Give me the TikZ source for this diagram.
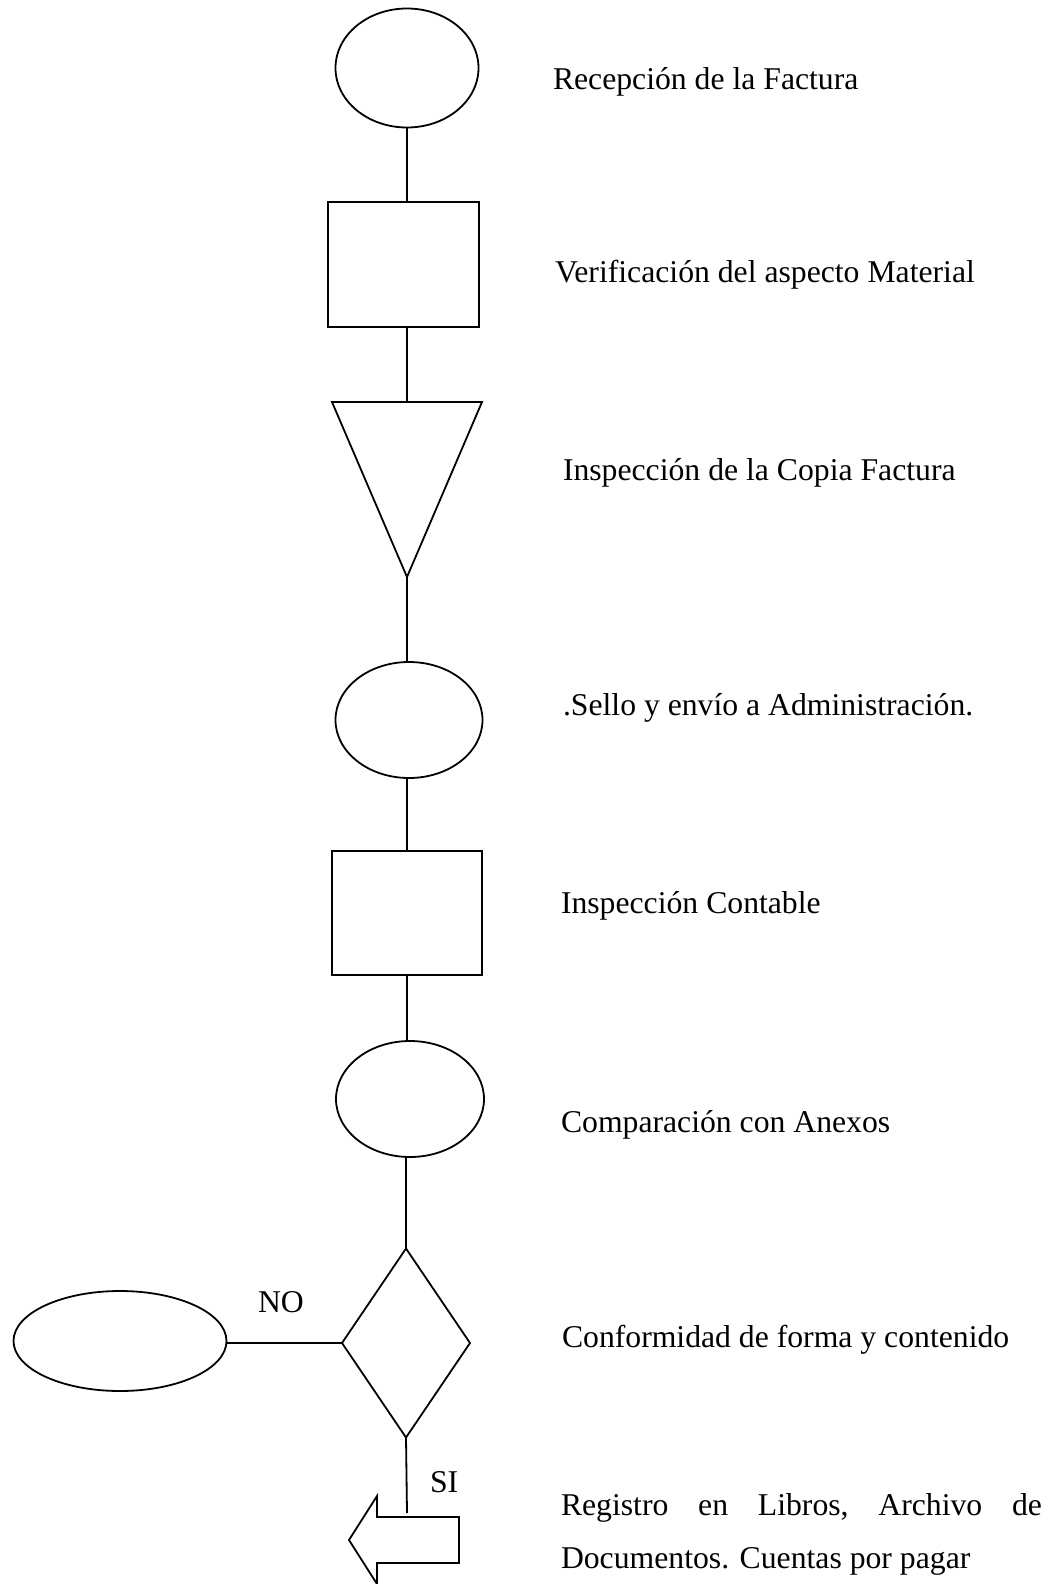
\documentclass[tikz,border=0pt]{standalone}
\usepackage{fontspec}
\setmainfont{Liberation Serif}
\usetikzlibrary{shapes.geometric}
\begin{document}
\begin{tikzpicture}[x=1pt,y=-1pt, line width=1.8pt, line join=miter,
  shp/.style={draw, inner sep=0pt, outer sep=0pt},
  oval/.style={shp, ellipse},
  box/.style={shp, rectangle},
  dec/.style={shp, diamond},
  lbl/.style={anchor=base west, inner sep=0pt, outer sep=0pt, font=\fontsize{31.7}{38}\selectfont},
]
\useasboundingbox (0,0) rectangle (1055,1584);

% shapes
\node[oval, minimum width=143pt, minimum height=119pt] (e1) at (407,68) {};
\node[box, minimum width=151pt, minimum height=125pt] (r1) at (403.5,264.5) {};
\coordinate (t1) at (332,402);
\coordinate (t2) at (482,402);
\coordinate (tapex) at (407,577);
\coordinate (ttop) at (407,402);
\draw (t1) -- (t2) -- (tapex) -- cycle;
\node[oval, minimum width=147pt, minimum height=116pt] (e2) at (409,720) {};
\node[box, minimum width=150pt, minimum height=124pt] (r2) at (407,913) {};
\node[oval, minimum width=148pt, minimum height=116pt] (e3) at (410,1099) {};
\node[dec, minimum width=128pt, minimum height=189pt] (d1) at (406,1343) {};
\node[oval, minimum width=213pt, minimum height=100pt] (e4) at (120,1341) {};

% arrow
\coordinate (aend) at (407,1513);
\draw (459,1517) -- (377,1517) -- (377,1496) -- (349,1540) -- (377,1584) -- (377,1563) -- (459,1563) -- cycle;

% connectors
\draw (e1.south) -- (e1.south |- r1.north);
\draw (r1.south -| ttop) -- (ttop);
\draw (tapex) -- (tapex |- e2.north);
\draw (e2.south -| tapex) -- (tapex |- r2.north);
\draw (r2.south -| tapex) -- (tapex |- e3.north);
\draw (e3.south -| d1.north) -- (d1.north);
\draw (d1.west) -- (d1.west -| e4.east);
\draw (d1.south) -- (aend);

% branch labels
\node[lbl] (no) at (258,1312) {NO};
\node[lbl] (si) at (430,1492) {SI};

% step labels
\node[lbl] (l1) at (553,90) {Recepción de la Factura};
\node[lbl] (l2) at (555,282) {Verificación del aspecto Material};
\node[lbl] (l3) at (563,480) {Inspección de la Copia Factura};
\node[lbl] (l4) at (563,715) {.Sello y envío a Administración.};
\node[lbl] (l5) at (561,913) {Inspección Contable};
\node[lbl] (l6) at (561,1132) {Comparación con Anexos};
\node[lbl] (l7) at (562,1347) {Conformidad de forma y contenido};
\node[lbl] (l8) at (561,1515) {\makebox[481pt][s]{Registro\hfill en\hfill Libros,\hfill Archivo\hfill de}};
\node[lbl] (l9) at (561,1568) {Documentos. Cuentas por pagar};
\end{tikzpicture}
\end{document}
